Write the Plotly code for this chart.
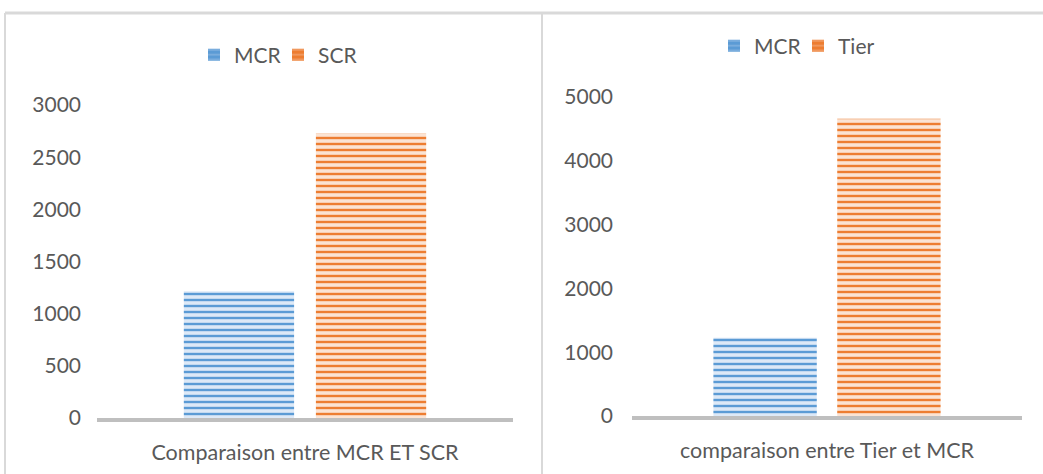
import plotly.graph_objects as go

# data
left_category = ["Comparaison entre MCR ET SCR"]
left_mcr = [1215]
left_scr = [2730]

right_category = ["comparaison entre Tier et MCR"]
right_mcr = [1225]
right_tier = [4660]

BLUE = "#5b9bd5"
BLUE_BG = "#dde9f7"
ORANGE = "#ed7d31"
ORANGE_BG = "#fbe3d3"
TEXT = "#595959"
FONT = "Lato, 'Open Sans', sans-serif"


def striped(color, bg, solidity=0.4):
    return dict(color=bg, line=dict(width=0),
                pattern=dict(shape="-", fgcolor=color, bgcolor=bg,
                             size=6, solidity=solidity, fillmode="replace"))


fig = go.Figure()

# bars
fig.add_trace(go.Bar(x=left_category, y=left_mcr, name="MCR",
                     marker=striped(BLUE, BLUE_BG), showlegend=False,
                     offsetgroup="a", xaxis="x", yaxis="y"))
fig.add_trace(go.Bar(x=left_category, y=left_scr, name="SCR",
                     marker=striped(ORANGE, ORANGE_BG), showlegend=False,
                     offsetgroup="b", xaxis="x", yaxis="y"))
fig.add_trace(go.Bar(x=right_category, y=right_mcr, name="MCR",
                     marker=striped(BLUE, BLUE_BG), showlegend=False,
                     offsetgroup="a", xaxis="x2", yaxis="y2"))
fig.add_trace(go.Bar(x=right_category, y=right_tier, name="Tier",
                     marker=striped(ORANGE, ORANGE_BG), showlegend=False,
                     offsetgroup="b", xaxis="x2", yaxis="y2"))

# legend entries only (denser swatch like the original)
for name, col, bg, grp, ax, ay, leg in [
    ("MCR", BLUE, "#8db8e3", "a", "x", "y", "legend"),
    ("SCR", ORANGE, "#f3a878", "b", "x", "y", "legend"),
    ("MCR", BLUE, "#8db8e3", "a", "x2", "y2", "legend2"),
    ("Tier", ORANGE, "#f3a878", "b", "x2", "y2", "legend2"),
]:
    fig.add_trace(go.Bar(x=[None], y=[None], name=name, offsetgroup=grp,
                         marker=striped(col, bg, 0.75),
                         xaxis=ax, yaxis=ay, legend=leg))

W, H = 1043, 474


def px_x(v):
    return v / W


def px_y(v):
    return 1 - v / H


xaxis_common = dict(showline=True, linecolor="#bfbfbf", linewidth=4,
                    showgrid=False, zeroline=False, ticks="outside",
                    ticklen=0, ticklabelstandoff=12, fixedrange=True,
                    automargin=False,
                    tickfont=dict(size=21.5, color=TEXT, family=FONT))
yaxis_common = dict(showline=False, showgrid=False, zeroline=False,
                    ticks="", fixedrange=True, automargin=False,
                    tickfont=dict(size=21, color=TEXT, family=FONT))
legend_common = dict(orientation="h", yanchor="middle", xanchor="center",
                     font=dict(size=21, color=TEXT, family=FONT),
                     itemwidth=30, entrywidth=39, entrywidthmode="pixels",
                     bgcolor="rgba(0,0,0,0)")

fig.update_layout(
    width=W, height=H,
    margin=dict(l=0, r=0, t=0, b=0, autoexpand=False),
    paper_bgcolor="white", plot_bgcolor="white",
    font=dict(family=FONT, color=TEXT),
    barmode="group", bargap=0.365, bargroupgap=0.165,
    xaxis=dict(domain=[px_x(97), px_x(513)], anchor="y", **xaxis_common),
    yaxis=dict(domain=[px_y(418), px_y(105)], range=[0, 3000], dtick=500,
               anchor="x", ticklabelstandoff=15, **yaxis_common),
    xaxis2=dict(domain=[px_x(632), px_x(1022)], anchor="y2", **xaxis_common),
    yaxis2=dict(domain=[px_y(416), px_y(97)], range=[0, 5000], dtick=1000,
                anchor="x2", ticklabelstandoff=18, **yaxis_common),
    legend=dict(x=px_x(278), y=px_y(55), **legend_common),
    legend2=dict(x=px_x(798), y=px_y(46), **legend_common),
    shapes=[
        dict(type="line", xref="paper", yref="paper",
             x0=px_x(5), x1=1, y0=px_y(13), y1=px_y(13),
             line=dict(color="#d9d9d9", width=3)),
        dict(type="line", xref="paper", yref="paper",
             x0=px_x(5), x1=px_x(5), y0=px_y(13), y1=0,
             line=dict(color="#d9d9d9", width=2)),
        dict(type="line", xref="paper", yref="paper",
             x0=px_x(542), x1=px_x(542), y0=px_y(13), y1=0,
             line=dict(color="#d9d9d9", width=2)),
    ],
)

# drop the default page margin so the figure sits at the window corner
fig.write_html("out.html", config={"displayModeBar": False},
               post_script="document.body.style.margin='0';")
